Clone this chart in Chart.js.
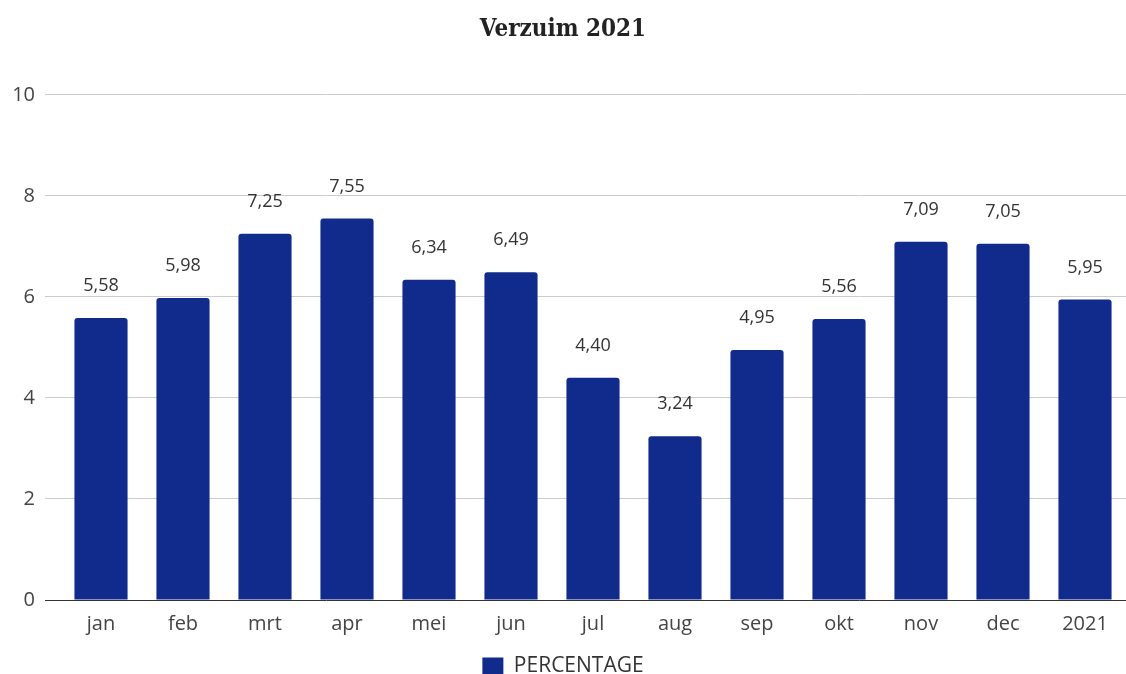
<!DOCTYPE html>
<html lang="nl">
<head>
    <meta charset="UTF-8">
    <script src="https://cdn.jsdelivr.net/npm/chart.js"></script>
    <title>Verzuim 2021</title>
    <style>
        html, body { margin: 0; padding: 0; background: #fff; }
        .chart-box { width: 1126px; height: 674px; }
    </style>
</head>
<body>
    <div class="chart-box">
        <canvas id="verzuimChart"></canvas>
    </div>
    <script>
        var maanden = ['jan', 'feb', 'mrt', 'apr', 'mei', 'jun', 'jul', 'aug', 'sep', 'okt', 'nov', 'dec', '2021'];
        var percentage = [5.58, 5.98, 7.25, 7.55, 6.34, 6.49, 4.40, 3.24, 4.95, 5.56, 7.09, 7.05, 5.95];
        var yTicks = [0, 2, 4, 6, 8, 10];

        // waarden boven de balken, met komma
        const waardeLabels = {
            id: 'waardeLabels',
            afterDatasetsDraw(chart) {
                const ctx = chart.ctx;
                const meta = chart.getDatasetMeta(0);
                ctx.save();
                ctx.font = '18px "Open Sans"';
                ctx.fillStyle = '#333';
                ctx.textAlign = 'center';
                ctx.textBaseline = 'middle';
                meta.data.forEach(function (bar, i) {
                    var txt = percentage[i].toFixed(2).replace('.', ',');
                    ctx.fillText(txt, bar.x, bar.y - 32);
                });
                ctx.restore();
            }
        };

        const config = {
            type: 'bar',
            data: {
                labels: maanden,
                datasets: [{
                    label: 'PERCENTAGE',
                    data: percentage,
                    backgroundColor: '#112b8c',
                    borderRadius: 3,
                    barPercentage: 0.8,
                    categoryPercentage: 0.81
                }]
            },
            options: {
                responsive: true,
                maintainAspectRatio: false,
                animation: false,
                layout: { padding: { left: 0, right: 0, top: 0, bottom: -13 } },
                plugins: {
                    title: {
                        display: true,
                        text: 'Verzuim 2021',
                        color: '#222',
                        font: { family: '"DejaVu Serif Condensed", "DejaVu Serif"', size: 24, weight: 'bold' },
                        padding: { top: 15, bottom: 51 }
                    },
                    legend: {
                        position: 'bottom',
                        labels: {
                            color: '#333',
                            boxWidth: 21,
                            boxHeight: 18,
                            padding: 0,
                            font: { family: '"Open Sans"', size: 21 }
                        }
                    },
                    tooltip: { enabled: false }
                },
                scales: {
                    x: {
                        afterFit: function (axis) { axis.height = 56; },
                        grid: { display: false },
                        border: { display: false },
                        ticks: { color: '#444', font: { family: '"Open Sans"', size: 20 }, padding: 4 }
                    },
                    y: {
                        min: 0,
                        max: 10,
                        afterFit: function (axis) { axis.width = 60; },
                        afterBuildTicks: function (axis) {
                            axis.ticks = yTicks.map(function (v) { return { value: v }; });
                        },
                        grid: {
                            color: function (c) { return c.tick && c.tick.value === 0 ? '#333' : '#cccccc'; },
                            tickLength: 15,
                            drawTicks: true
                        },
                        border: { display: false },
                        ticks: { color: '#444', font: { family: '"Open Sans"', size: 20 }, padding: 10 }
                    }
                }
            },
            plugins: [waardeLabels]
        };

        new Chart(document.getElementById('verzuimChart'), config);
    </script>
</body>
</html>
